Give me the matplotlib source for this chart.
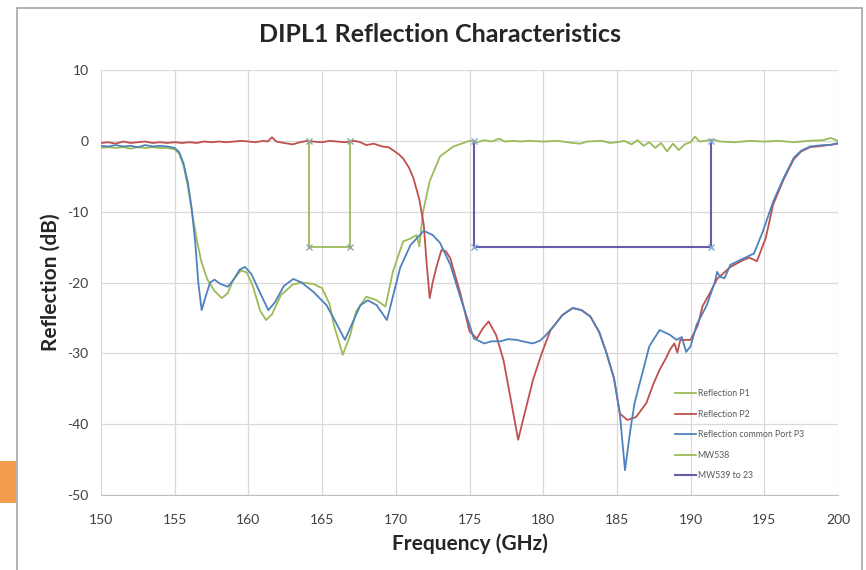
import matplotlib
matplotlib.use("Agg")
import matplotlib.pyplot as plt
from matplotlib.patches import Rectangle

plt.rcParams['font.family'] = ['Lato', 'DejaVu Sans']
plt.rcParams['axes.unicode_minus'] = False

# ---------------- data ----------------
p3_f = [150.0, 150.5, 151.0, 151.5, 152.0, 152.5, 153.0, 153.5, 154.0, 154.5, 155.0, 155.3, 155.6, 155.9,
        156.15, 156.4, 156.6, 156.83, 157.1, 157.4, 157.7, 158.1, 158.6, 159.0, 159.4, 159.77, 160.2, 160.8,
        161.35, 161.8, 162.4, 163.05, 163.6, 164.4, 165.3, 165.9, 166.55, 167.1, 167.6, 168.1, 168.7, 169.4,
        169.8, 170.3, 171.0, 171.9, 172.5, 173.0, 173.7, 174.4, 175.3, 176.0, 176.5, 177.1, 177.6, 178.2,
        178.8, 179.3, 179.8, 180.2, 180.7, 181.3, 182.0, 182.6, 183.2, 183.8, 184.3, 184.8, 185.2, 185.55,
        185.9, 186.2, 186.6, 187.2, 187.9, 188.3, 188.6, 189.05, 189.4, 189.7, 190.0, 190.4, 191.1, 191.65,
        191.8, 192.0, 192.3, 192.7, 193.6, 194.3, 194.9, 195.6, 196.3, 197.0, 197.5, 198.1, 199.0, 199.5, 200.0]
p3_db = [-0.7, -0.8, -0.6, -0.8, -0.7, -0.9, -0.6, -0.8, -0.7, -0.8, -1.0, -1.6, -3.2, -6.0,
         -9.5, -14.5, -20.0, -23.9, -22.0, -20.0, -19.6, -20.2, -20.6, -19.6, -18.2, -17.8, -18.8, -21.5,
         -23.9, -22.8, -20.5, -19.5, -20.0, -21.3, -23.2, -25.5, -28.1, -25.5, -23.2, -22.5, -23.2, -25.3,
         -22.0, -17.9, -14.7, -12.7, -13.3, -14.4, -17.5, -22.2, -27.9, -28.6, -28.3, -28.3, -28.0, -28.1,
         -28.4, -28.6, -28.2, -27.4, -26.2, -24.6, -23.6, -23.9, -24.8, -27.0, -30.0, -33.5, -38.5, -46.5,
         -41.0, -37.0, -33.8, -29.0, -26.7, -27.1, -27.4, -28.1, -27.7, -29.8, -29.0, -26.0, -23.2, -19.9,
         -18.5, -19.2, -19.4, -17.5, -16.6, -15.9, -12.8, -8.6, -5.3, -2.4, -1.4, -0.8, -0.6, -0.6, -0.3]

p2_f = [150.0, 150.5, 151.0, 151.5, 152.0, 152.5, 153.0, 153.5, 154.0, 154.5, 155.0, 155.5, 156.0, 156.5,
        157.0, 157.5, 158.0, 158.5, 159.0, 159.5, 160.0, 160.5, 161.0, 161.3, 161.6, 161.9, 162.4, 163.0,
        163.5, 164.0, 164.4, 165.0, 165.5, 166.0, 166.5, 167.2, 167.6, 168.0, 168.5, 169.1, 169.5, 169.8,
        170.2, 170.5, 170.9, 171.2, 171.6, 171.9, 172.1, 172.3, 172.5, 172.8, 173.1, 173.4, 173.7, 174.4,
        175.0, 175.5, 175.9, 176.3, 176.8, 177.3, 177.8, 178.3, 178.8, 179.3, 179.9, 180.5, 180.7, 181.3,
        182.0, 182.6, 183.2, 183.8, 184.3, 184.8, 185.2, 185.7, 186.3, 187.0, 187.5, 187.9, 188.3, 188.6,
        188.9, 189.1, 189.3, 190.0, 190.5, 190.8, 191.3, 191.8, 192.7, 193.6, 194.0, 194.5, 195.1, 195.6,
        196.3, 197.0, 197.5, 198.1, 199.0, 200.0]
p2_db = [-0.3, -0.2, -0.4, -0.1, -0.3, -0.2, -0.1, -0.3, -0.2, -0.3, -0.2, -0.3, -0.2, -0.3,
         -0.1, -0.2, -0.1, -0.2, -0.1, 0.0, -0.1, -0.2, 0.0, -0.1, 0.5, -0.1, -0.3, -0.5,
         -0.2, 0.0, -0.1, -0.2, 0.0, -0.1, -0.2, 0.0, -0.2, -0.6, -0.4, -0.8, -0.9, -1.3,
         -1.9, -2.5, -3.8, -5.3, -8.3, -11.9, -17.5, -22.2, -20.0, -17.5, -15.4, -15.6, -16.6, -21.7,
         -26.9, -27.9, -26.5, -25.5, -27.4, -30.9, -36.5, -42.2, -38.0, -33.8, -30.0, -26.7, -26.2, -24.6,
         -23.6, -23.9, -24.8, -27.0, -30.0, -33.5, -38.5, -39.4, -39.0, -37.0, -34.2, -32.3, -30.8, -29.5,
         -28.6, -29.9, -28.1, -28.1, -26.0, -23.4, -21.5, -19.5, -17.8, -16.8, -16.5, -17.0, -13.7, -9.0,
         -5.5, -2.6, -1.5, -0.9, -0.7, -0.4]

p1_f = [150.0, 150.5, 151.0, 151.5, 152.0, 152.5, 153.0, 153.5, 154.0, 154.5, 155.0, 155.3, 155.6, 155.9,
        156.15, 156.5, 156.8, 157.2, 157.7, 158.2, 158.6, 159.0, 159.5, 159.9, 160.3, 160.8, 161.2, 161.6,
        162.2, 163.0, 163.6, 164.4, 165.0, 165.5, 165.8, 166.4, 166.9, 167.3, 168.0, 168.7, 169.3, 169.8,
        170.5, 171.0, 171.4, 171.6, 171.85, 172.3, 173.0, 173.9, 175.0, 175.5, 176.0, 176.5, 177.0, 177.4,
        178.0, 178.5, 179.0, 180.0, 181.0, 182.0, 182.5, 183.0, 184.0, 184.5, 185.0, 185.5, 186.0, 186.4,
        186.8, 187.2, 187.6, 188.0, 188.4, 188.8, 189.2, 189.6, 190.0, 190.3, 190.6, 191.0, 191.5, 192.0,
        193.0, 194.0, 195.0, 196.0, 197.0, 198.0, 199.0, 199.5, 200.0]
p1_db = [-1.0, -0.9, -1.0, -0.9, -1.1, -0.9, -1.0, -0.9, -1.0, -1.0, -1.2, -1.8, -3.5, -6.5,
         -9.8, -14.0, -17.0, -19.5, -21.2, -22.2, -21.5, -19.5, -18.3, -18.6, -20.5, -24.0, -25.3, -24.5,
         -21.8, -20.3, -20.0, -20.2, -20.8, -23.0, -26.0, -30.2, -27.5, -24.1, -22.0, -22.5, -23.4, -18.5,
         -14.2, -13.8, -13.3, -14.9, -10.0, -5.7, -2.2, -0.8, 0.0, -0.2, 0.1, -0.1, 0.3, -0.1,
         0.0, -0.1, 0.0, -0.1, 0.0, -0.3, -0.4, -0.1, 0.0, -0.3, -0.2, 0.0, -0.5, 0.1,
         -0.7, -0.2, -1.0, -0.3, -1.5, -0.4, -1.3, -0.5, -0.2, 0.6, -0.1, 0.0, 0.2, -0.1,
         -0.2, 0.0, -0.1, 0.0, -0.2, 0.0, 0.1, 0.4, 0.0]

mw538_f = [164.1, 164.1, 166.9, 166.9]
mw538_db = [0, -15, -15, 0]
mw539_f = [175.3, 175.3, 191.4, 191.4]
mw539_db = [0, -15, -15, 0]

labels = ["Reflection P1", "Reflection P2", "Reflection common Port P3", "MW538", "MW539 to 23"]
x_ticks = [150, 155, 160, 165, 170, 175, 180, 185, 190, 195, 200]
y_ticks = [10, 0, -10, -20, -30, -40, -50]

# ---------------- figure ----------------
W, H = 866, 570
fig = plt.figure(figsize=(W / 100, H / 100), dpi=100)

# slide decoration + chart frame
fig.patches.append(Rectangle((17 / W, -0.05), (862 - 17) / W, 1.05 - 8 / H, transform=fig.transFigure,
                             facecolor='white', edgecolor='#A6A6A6', linewidth=1.2, zorder=-10))
fig.patches.append(Rectangle((0, 1 - 503 / H), 16 / W, 42 / H, transform=fig.transFigure,
                             facecolor='#F39C4F', edgecolor='none', zorder=-10))

ax = fig.add_axes([101 / W, 1 - 495 / H, (838 - 101) / W, (495 - 70) / H])
ax.set_zorder(5)
ax.patch.set_alpha(0)

c_p1 = '#9BBB59'
c_p2 = '#C0504D'
c_p3 = '#4F81BD'
c_mw538 = '#9BBB59'
c_mw539 = '#6A5AA8'

lw = 1.3
ax.plot(p1_f, p1_db, color=c_p1, lw=lw, label=labels[0], zorder=3)
ax.plot(p2_f, p2_db, color=c_p2, lw=lw, label=labels[1], zorder=3)
ax.plot(p3_f, p3_db, color=c_p3, lw=lw, label=labels[2], zorder=4)
ax.plot(mw538_f, mw538_db, color=c_mw538, lw=lw, label=labels[3], marker='x', ms=4,
        mec='#8FA8A0', zorder=5)
ax.plot(mw539_f, mw539_db, color=c_mw539, lw=1.5, label=labels[4], marker='x', ms=4,
        mec='#7FA7D6', zorder=5)

ax.set_xlim(150, 200)
ax.set_ylim(-50, 10)
ax.set_xticks(x_ticks)
ax.set_yticks(y_ticks)
ax.grid(True, color='#D9D9D9', lw=0.9)
ax.set_axisbelow(True)
for s in ['top', 'right', 'left']:
    ax.spines[s].set_visible(False)
ax.spines['bottom'].set_color('#BFBFBF')
ax.tick_params(axis='both', length=0, labelsize=10, labelcolor='#404040')
ax.tick_params(axis='x', pad=14)
ax.tick_params(axis='y', pad=9)

ax.set_xlabel('Frequency (GHz)', fontsize=15, fontweight='bold', color='#262626', labelpad=5)
ax.set_ylabel('Reflection (dB)', fontsize=15, fontweight='bold', color='#262626', labelpad=5)
fig.text(440 / W, 1 - 35 / H, 'DIPL1 Reflection Characteristics', fontsize=18, fontweight='bold',
         color='#262626', ha='center', va='center')

leg = ax.legend(loc='upper left', bbox_to_anchor=((671 - 101) / (838 - 101), 1 - (386 - 70) / (495 - 70)),
                frameon=False, fontsize=6.3, handlelength=2.4, labelspacing=1.3, handletextpad=0.25,
                borderaxespad=0)
for t in leg.get_texts():
    t.set_color('#595959')
for h in leg.get_lines():
    h.set_marker('')

fig.savefig('out.png', dpi=100)
